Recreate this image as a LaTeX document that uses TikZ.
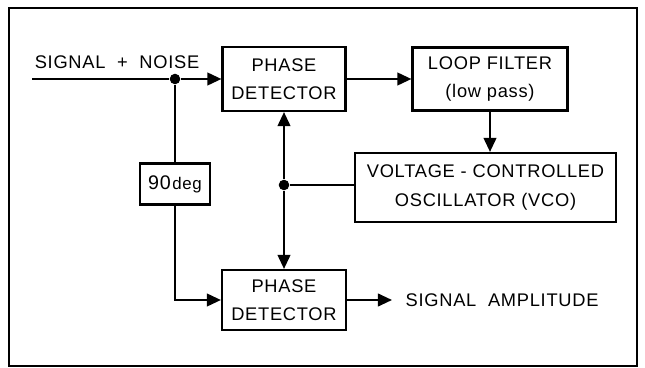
\documentclass[tikz,border=0pt]{standalone}
\usepackage{fontspec}
\setmainfont{Liberation Sans}[LetterSpace=4]
\usetikzlibrary{arrows.meta}

\begin{document}
\begin{tikzpicture}[x=0.025cm, y=-0.025cm, line width=1.5pt,
  font=\fontsize{13}{20}\selectfont, >={Triangle[length=10pt,width=9pt]},
  block/.style={draw, align=center, inner sep=0pt},
  dot/.style={circle, fill=black, minimum size=7.5pt, inner sep=0pt}]
\useasboundingbox (0,0) rectangle (645,368);
\draw (9,8) rectangle (637,366);
\node[block, minimum width=3.075cm, minimum height=1.6cm] (PD1) at (284,79) {PHASE\\DETECTOR};
\node[block, minimum width=3.875cm, minimum height=1.575cm] (LF) at (490,79) {LOOP FILTER\\(low pass)};
\node[block, minimum width=6.525cm, minimum height=1.725cm] (VCO) at (485.5,187.5) {VOLTAGE - CONTROLLED\\OSCILLATOR (VCO)};
\node[block, minimum width=1.75cm, minimum height=1.025cm] (PS) at (175,184) {\fontsize{14}{16}\selectfont 90\kern1pt{\fontsize{12}{14}\selectfont deg}};
\node[block, minimum width=3.1cm, minimum height=1.5cm] (PD2) at (284,300) {PHASE\\DETECTOR};
\node (SN) at (117,62) {SIGNAL \ + \ NOISE};
\node[anchor=west, inner sep=0pt, inner xsep=9pt] (SA) at (392,300) {SIGNAL \ AMPLITUDE};
\coordinate (IN) at (32,79);
\node[dot] (D1) at (175,79) {};
\node[dot] (D2) at (284,185) {};
\draw (IN) -- (D1);
\draw[->] (D1) -- (PD1);
\draw (D1) -- (PS);
\draw[->] (PS) |- (PD2);
\draw[->] (PD1) -- (LF);
\draw[->] (LF.south) -- (LF.south |- VCO.north);
\draw (D2) -- (D2 -| VCO.west);
\draw[->] (D2) -- (PD1.south);
\draw[->] (D2) -- (PD2.north);
\draw[->] (PD2) -- (SA);
\end{tikzpicture}
\end{document}
